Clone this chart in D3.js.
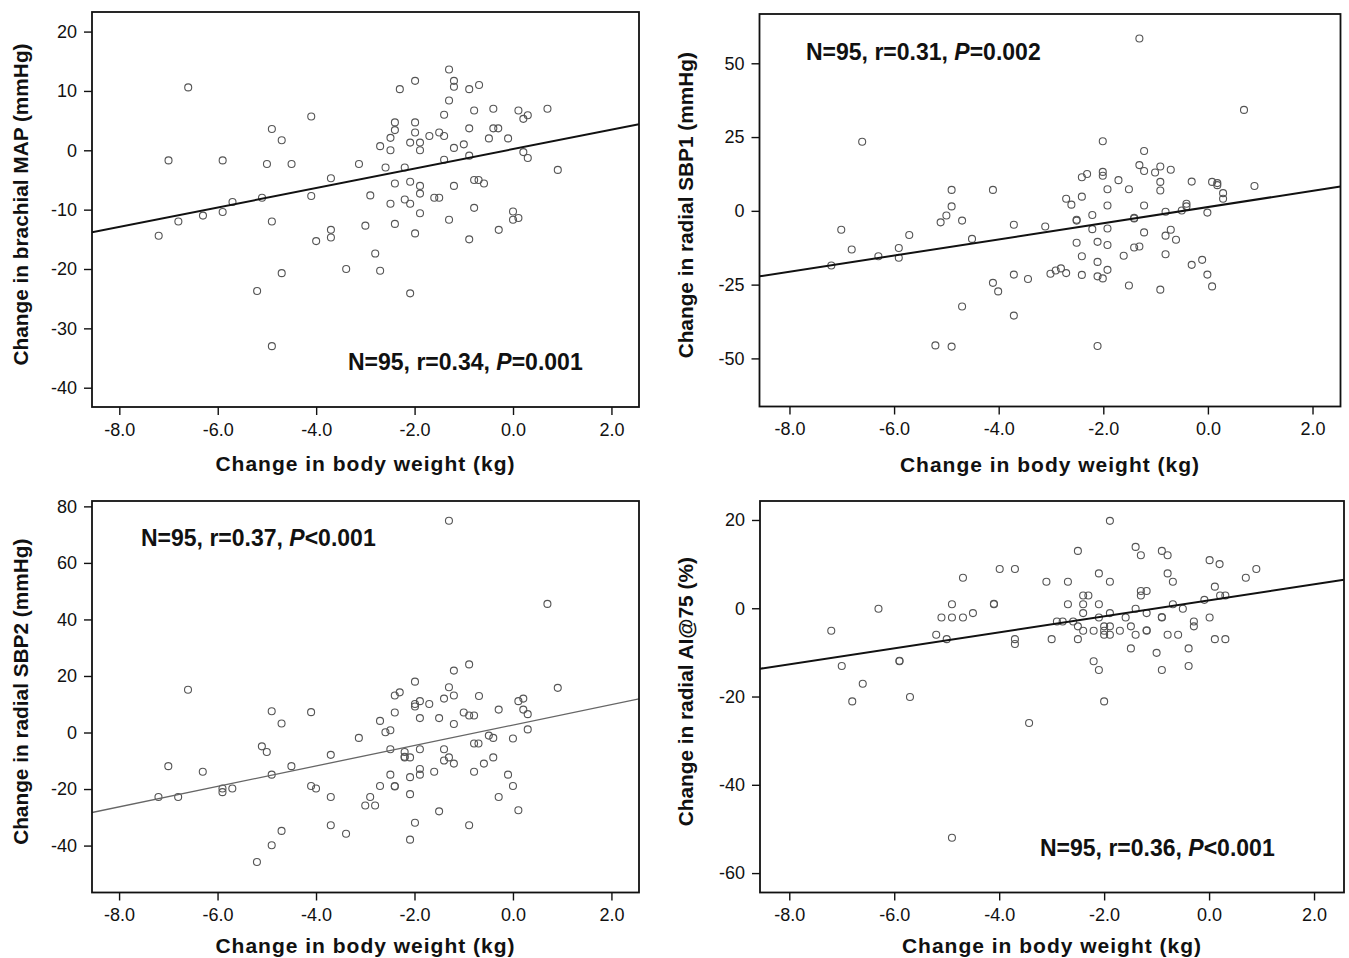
<!DOCTYPE html>
<meta charset="utf-8">
<head>
<style>
  body { margin: 0; background: #fff; }
  svg { font-family: "Liberation Sans", Arial, sans-serif; }
  .tick text { font-size: 18px; fill: #111; }
  .tick line { stroke: #111; stroke-width: 1.4; }
  .frame { fill: none; stroke: #111; stroke-width: 1.8; }
  .dot { fill: none; stroke: #555; stroke-width: 1.1; }
  .fit { stroke: #111; stroke-width: 2; }
  .ylab { font-size: 20.8px; font-weight: bold; fill: #111; }
  .xlab { font-size: 21px; font-weight: bold; fill: #111; letter-spacing: 1px; }
  .stat { font-size: 23px; font-weight: bold; fill: #111; }
</style>
</head>
<body>
<script src="https://d3js.org/d3.v7.min.js"></script>
<script>
// tick labels
var xTicks = [-8, -6, -4, -2, 0, 2];
var mapTicks = [20, 10, 0, -10, -20, -30, -40];
var sbp1Ticks = [50, 25, 0, -25, -50];
var sbp2Ticks = [80, 60, 40, 20, 0, -20, -40];
var aiTicks = [20, 0, -20, -40, -60];

// [change in body weight, change in outcome]
var mapPoints = [
  [-6.60,10.6],[-7.00,-1.7],[-5.90,-1.7],[-4.10,5.7],[-4.90,3.6],[-4.70,1.7],[-5.00,-2.3],[-4.50,-2.3],
  [-3.13,-2.3],[-3.70,-4.7],[-4.10,-7.7],[-5.10,-8.0],[-5.70,-8.7],[-5.90,-10.4],[-6.30,-11.0],[-6.80,-12.0],
  [-4.90,-12.0],[-7.20,-14.4],[-3.70,-13.4],[-3.70,-14.7],[-4.00,-15.3],[-3.39,-20.0],[-4.70,-20.7],[-5.20,-23.7],
  [-4.90,-33.0],
  [-1.30,13.6],[-1.99,11.7],[-1.20,11.7],[-1.20,10.7],[-2.30,10.3],[-0.89,10.3],[-0.69,11.0],[-1.30,8.4],
  [-1.40,6.0],[-0.79,6.7],[-0.40,7.0],[0.11,6.7],[0.21,5.3],[0.30,5.9],[0.70,7.0],
  [-2.40,4.7],[-1.99,4.7],[-2.40,3.4],[-1.99,3.0],[-2.49,2.1],[-2.09,1.3],[-1.89,1.3],[-1.70,2.4],
  [-1.50,3.0],[-1.40,2.4],[-0.89,3.7],[-0.40,3.7],[-0.30,3.7],[-0.49,2.0],[-0.10,2.0],
  [-2.70,0.7],[-2.49,0.0],[-1.89,0.0],[-1.20,0.4],[-1.00,1.0],[-0.89,-0.9],[-1.40,-1.6],[0.21,-0.3],
  [0.30,-1.3],[0.91,-3.3],
  [-2.59,-2.9],[-2.20,-2.9],[-2.40,-5.6],[-2.09,-5.3],[-1.89,-6.0],[-1.20,-6.0],[-0.79,-5.0],[-0.70,-5.0],
  [-0.59,-5.6],
  [-2.90,-7.6],[-1.89,-7.3],[-2.20,-8.3],[-2.09,-9.0],[-2.49,-9.0],[-1.60,-8.0],[-1.50,-8.0],[-0.79,-9.7],
  [-1.89,-10.6],[0.00,-10.3],[0.00,-11.7],[0.11,-11.4],
  [-3.00,-12.7],[-2.40,-12.4],[-1.30,-11.7],[-1.99,-14.0],[-0.89,-15.0],[-0.29,-13.4],[-2.80,-17.4],[-2.70,-20.3],
  [-2.09,-24.1]
];

var sbp1Points = [
  [-6.61,23.4],[-4.90,7.1],[-4.11,7.1],[-4.90,1.5],[-5.00,-1.6],[-5.11,-3.9],[-4.70,-3.3],[-3.71,-4.7],
  [-7.01,-6.4],[-5.71,-8.2],[-4.51,-9.5],[-6.81,-13.1],[-5.91,-12.6],[-6.30,-15.4],[-5.91,-15.9],[-7.20,-18.5],
  [-3.71,-21.6],[-3.44,-23.1],[-4.11,-24.4],[-4.01,-27.3],[-4.70,-32.4],[-3.71,-35.5],[-5.21,-45.6],[-4.90,-46.0],
  [-1.31,58.4],[0.69,34.2],[-2.01,23.6],[-1.22,20.3],[-1.31,15.5],[-1.22,13.5],[-0.91,15.0],[-1.01,13.0],
  [-0.71,13.9],
  [-2.41,11.4],[-2.31,12.5],[-2.01,13.2],[-2.01,11.9],[-1.71,10.4],[-0.91,9.8],[-0.91,6.9],[-0.31,9.9],
  [0.08,9.8],[0.18,9.4],[0.18,8.7],[0.89,8.4],
  [-1.92,7.3],[-1.51,7.3],[0.29,6.0],[0.29,4.1],[-2.71,4.1],[-2.41,4.8],[-2.61,2.1],[-1.92,1.8],
  [-1.22,1.8],[-0.41,2.4],[-0.41,1.5],[-0.50,0.1],[-0.81,-0.3],[-0.01,-0.6],
  [-2.21,-1.4],[-2.51,-3.3],[-2.51,-3.0],[-1.41,-2.6],[-1.41,-2.4],[-3.11,-5.3],[-2.21,-6.2],[-1.92,-6.0],
  [-1.22,-7.3],[-0.71,-6.4],[-0.81,-8.4],[-0.61,-9.8],
  [-2.51,-10.8],[-2.11,-10.5],[-1.92,-11.6],[-1.41,-12.4],[-1.31,-12.1],[-2.41,-15.4],[-1.61,-15.2],[-0.81,-14.7],
  [-2.11,-17.3],[-0.31,-18.3],[-0.11,-16.6],
  [-3.01,-21.3],[-2.91,-20.2],[-2.81,-19.5],[-2.71,-21.1],[-2.41,-21.7],[-2.11,-22.2],[-2.01,-22.9],[-1.92,-20.0],
  [-1.51,-25.3],[-0.91,-26.7],[-0.01,-21.6],[0.08,-25.6],[-2.11,-45.8]
];

var sbp2Points = [
  [-6.60,15.1],[-4.90,7.5],[-4.10,7.2],[-4.70,3.2],[-3.13,-1.9],[-5.10,-4.9],[-5.00,-6.9],[-3.70,-7.9],
  [-7.00,-11.9],[-4.50,-11.9],[-6.30,-13.9],[-4.90,-14.9],[-4.10,-18.9],[-4.00,-19.8],[-5.90,-19.8],[-5.90,-21.1],
  [-5.70,-19.8],[-7.20,-22.8],[-6.80,-22.8],[-3.70,-22.8],[-3.70,-32.8],[-4.70,-34.8],[-3.39,-35.8],[-4.90,-39.9],
  [-5.20,-45.8],
  [-1.30,74.9],[0.70,45.5],[-0.89,24.1],[-1.20,21.9],[-1.99,18.0],[0.91,15.8],[-1.30,16.0],[-2.40,13.1],
  [-2.30,14.2],[-1.40,12.0],[-1.20,13.1],[-0.69,12.9],[0.11,11.1],[0.21,12.0],
  [-1.99,10.1],[-1.99,9.2],[-1.89,11.1],[-1.70,10.1],[-2.40,7.1],[-1.89,5.1],[-1.50,5.1],[-1.20,3.0],
  [-1.00,7.1],[-0.89,6.0],[-0.79,6.0],[-0.29,8.1],[0.21,8.1],[0.30,6.5],[0.30,1.1],
  [-2.70,4.1],[-2.59,0.1],[-2.49,0.8],
  [-2.49,-5.9],[-2.20,-6.9],[-2.20,-8.8],[-2.20,-8.6],[-2.09,-8.8],[-1.89,-5.9],[-1.40,-5.9],[-1.30,-8.8],
  [-1.40,-9.9],[-1.20,-11.0],
  [-0.79,-3.9],[-0.70,-3.9],[-0.49,-1.1],[-0.40,-1.9],[0.00,-2.1],[-0.40,-8.8],[-0.59,-11.0],[-0.79,-13.9],
  [-1.89,-12.9],[-1.89,-14.9],[-1.60,-13.9],[-2.49,-14.9],[-2.70,-18.9],[-2.40,-18.9],[-2.40,-19.1],[-2.09,-15.8],
  [-2.09,-21.8],[-2.90,-22.8],[-3.00,-25.8],[-2.80,-25.8],
  [-0.10,-14.9],[0.00,-18.9],[-0.29,-22.8],[0.11,-27.5],[-1.50,-27.9],[-1.99,-31.9],[-0.89,-32.8],[-2.09,-37.9]
];

var aiPoints = [
  [-3.99,8.9],[-3.70,8.9],[-4.69,6.9],[-6.30,-0.1],[-4.90,0.9],[-4.10,0.9],[-4.10,1.0],[-5.10,-2.1],
  [-4.90,-2.1],[-4.69,-2.1],[-4.50,-1.1],[-7.20,-5.1],[-5.20,-6.0],[-5.00,-7.0],[-3.70,-7.0],[-3.70,-8.1],
  [-5.90,-12.0],[-5.90,-11.9],[-7.00,-13.1],[-6.60,-17.1],[-6.80,-21.1],[-5.70,-20.1],[-3.43,-26.0],[-4.90,-52.0],
  [-1.89,19.8],[-2.50,13.0],[-1.40,13.9],[-1.30,12.0],[-0.90,13.0],[-0.79,12.0],[0.01,10.9],[0.20,10.0],
  [0.90,8.9],[0.70,6.9],[-2.10,7.9],[-0.79,7.9],[-3.10,6.0],[-2.69,6.0],[-1.89,6.0],[-0.69,6.0],[0.11,4.9],
  [-2.40,2.9],[-2.30,2.9],[-1.30,3.9],[-1.19,3.9],[-1.30,2.9],[0.21,2.9],[0.31,2.9],
  [-2.69,0.9],[-2.40,0.9],[-2.10,0.9],[-0.09,1.9],[-1.40,-0.1],[-0.50,-0.1],[-0.69,0.9],
  [-2.40,-1.1],[-2.10,-2.1],[-1.89,-1.1],[-1.59,-2.1],[-1.19,-1.1],[-0.90,-2.1],[-0.90,-2.0],[0.01,-2.1],
  [-2.90,-3.0],[-2.79,-3.0],[-2.59,-3.0],[-2.50,-4.1],[-0.29,-3.0],[-0.29,-4.1],
  [-2.40,-5.1],[-2.20,-5.1],[-2.00,-4.1],[-1.89,-4.1],[-2.00,-5.1],[-2.00,-6.0],[-1.89,-6.0],[-1.70,-5.1],
  [-1.49,-4.1],[-1.40,-6.0],[-1.19,-5.1],[-1.19,-5.0],[-0.79,-6.0],[-0.59,-6.0],
  [-3.00,-7.0],[-2.50,-7.0],[0.11,-7.0],[0.31,-7.0],
  [-1.49,-9.1],[-1.00,-10.1],[-0.39,-9.1],[-0.39,-13.1],[-0.90,-14.0],[-2.20,-12.0],[-2.10,-14.0],[-2.00,-21.1]
];

// regression lines [slope, intercept] as drawn in the figure
var mapFit = [1.64, 0.2];
var sbp1Fit = [2.74, 1.29];
var sbp2Fit = [3.62, 2.65];
var aiFit = [1.81, 1.79];

var xTitle = "Change in body weight (kg)";

var panels = [
  { points: mapPoints, fit: mapFit, yTicks: mapTicks, yTitle: "Change in brachial MAP (mmHg)",
    stat: ["N=95, r=0.34, ", "P", "=0.001"],
    box: [92, 12, 639, 407], xDom: [-8.555, 2.56], yDom: [-43.25, 23.3],
    yLabX: 28, xLabY: 471, statXY: [348, 370] },
  { points: sbp1Points, fit: sbp1Fit, yTicks: sbp1Ticks, yTitle: "Change in radial SBP1 (mmHg)",
    stat: ["N=95, r=0.31, ", "P", "=0.002"],
    box: [759.5, 14, 1340.5, 406.5], xDom: [-8.573, 2.535], yDom: [-66.3, 66.7],
    yLabX: 693, xLabY: 472, statXY: [806, 60] },
  { points: sbp2Points, fit: sbp2Fit, yTicks: sbp2Ticks, yTitle: "Change in radial SBP2 (mmHg)",
    stat: ["N=95, r=0.37, ", "P", "<0.001"], thin: true,
    box: [92, 501, 639, 892.5], xDom: [-8.55, 2.56], yDom: [-56.6, 81.9],
    yLabX: 28, xLabY: 953, statXY: [141, 546] },
  { points: aiPoints, fit: aiFit, yTicks: aiTicks, yTitle: "Change in radial AI@75 (%)",
    stat: ["N=95, r=0.36, ", "P", "<0.001"],
    box: [760, 501, 1344, 892.5], xDom: [-8.558, 2.571], yDom: [-64.4, 24.3],
    yLabX: 693, xLabY: 953, statXY: [1040, 856] }
];

var svg = d3.select("body").append("svg")
    .attr("width", 1349)
    .attr("height", 958);

panels.forEach(function(p, i) {
  var b = p.box;
  var x = d3.scaleLinear().domain(p.xDom).range([b[0], b[2]]);
  var y = d3.scaleLinear().domain(p.yDom).range([b[3], b[1]]);

  var g = svg.append("g");

  g.append("clipPath").attr("id", "clip" + i)
    .append("rect")
      .attr("x", b[0]).attr("y", b[1])
      .attr("width", b[2] - b[0]).attr("height", b[3] - b[1]);

  // axes
  g.append("g")
      .attr("transform", "translate(0," + b[3] + ")")
      .call(d3.axisBottom(x).tickValues(xTicks).tickSize(8).tickPadding(8)
        .tickFormat(function(d) { return d.toFixed(1); }))
      .call(function(a) { a.select(".domain").remove(); });

  g.append("g")
      .attr("transform", "translate(" + b[0] + ",0)")
      .call(d3.axisLeft(y).tickValues(p.yTicks).tickSize(8).tickPadding(7)
        .tickFormat(function(d) { return String(d); }))
      .call(function(a) { a.select(".domain").remove(); });

  // points
  g.append("g").attr("clip-path", "url(#clip" + i + ")")
    .selectAll("circle")
    .data(p.points)
    .enter().append("circle")
      .attr("class", "dot")
      .attr("cx", function(d) { return x(d[0]); })
      .attr("cy", function(d) { return y(d[1]); })
      .attr("r", 3.5);

  // fit line
  g.append("line")
      .attr("class", "fit")
      .attr("clip-path", "url(#clip" + i + ")")
      .attr("x1", x(p.xDom[0])).attr("y1", y(p.fit[0] * p.xDom[0] + p.fit[1]))
      .attr("x2", x(p.xDom[1])).attr("y2", y(p.fit[0] * p.xDom[1] + p.fit[1]))
      .style("stroke", p.thin ? "#666" : null)
      .style("stroke-width", p.thin ? 1.3 : null);

  g.append("rect")
      .attr("class", "frame")
      .attr("x", b[0]).attr("y", b[1])
      .attr("width", b[2] - b[0]).attr("height", b[3] - b[1]);

  // titles
  g.append("text")
      .attr("class", "ylab")
      .attr("transform", "translate(" + p.yLabX + "," + ((b[1] + b[3]) / 2 - 5) + ") rotate(-90)")
      .attr("text-anchor", "middle")
      .text(p.yTitle);

  g.append("text")
      .attr("class", "xlab")
      .attr("x", (b[0] + b[2]) / 2)
      .attr("y", p.xLabY)
      .attr("text-anchor", "middle")
      .text(xTitle);

  var st = g.append("text")
      .attr("class", "stat")
      .attr("x", p.statXY[0])
      .attr("y", p.statXY[1]);
  st.append("tspan").text(p.stat[0]);
  st.append("tspan").style("font-style", "italic").text(p.stat[1]);
  st.append("tspan").text(p.stat[2]);
});
</script>
</body>
